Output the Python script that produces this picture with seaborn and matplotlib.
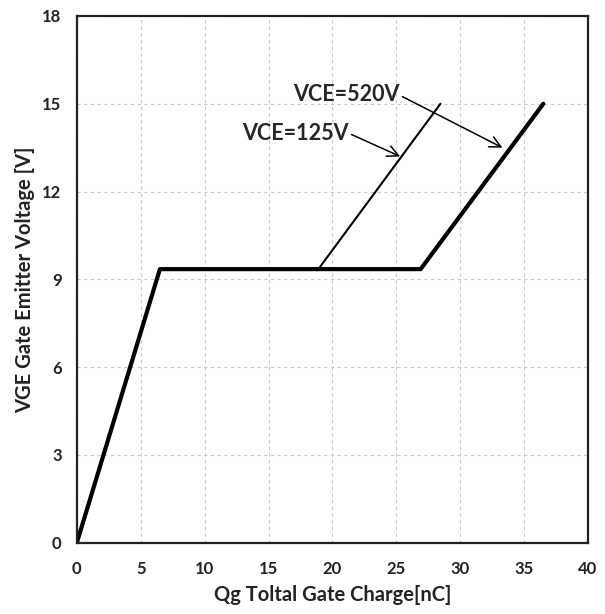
import matplotlib
matplotlib.use("Agg")
import matplotlib.pyplot as plt
import seaborn as sns
import pandas as pd

# Data
q_520 = [0, 6.5, 26.9, 36.5]
v_520 = [0, 9.35, 9.35, 15.0]
q_125 = [18.9, 28.45]
v_125 = [9.35, 15.0]
x_ticks = [0, 5, 10, 15, 20, 25, 30, 35, 40]
y_ticks = [0, 3, 6, 9, 12, 15, 18]
label_520 = "VCE=520V"
label_125 = "VCE=125V"

sns.set_style("white")
plt.rcParams['font.family'] = ['Lato', 'DejaVu Sans']

fig = plt.figure(figsize=(6.05, 6.14), dpi=100)
ax = fig.add_axes([0.127, 0.116, 0.845, 0.858])

df520 = pd.DataFrame({"q": q_520, "v": v_520})
df125 = pd.DataFrame({"q": q_125, "v": v_125})
sns.lineplot(data=df520, x="q", y="v", sort=False, ax=ax, color="black", linewidth=3.0)
sns.lineplot(data=df125, x="q", y="v", sort=False, ax=ax, color="black", linewidth=1.5)

ax.set_xlim(0, 40)
ax.set_ylim(0, 18)
ax.set_xticks(x_ticks)
ax.set_yticks(y_ticks)
ax.grid(True, color="#c8c8c8", linestyle=(0, (3, 3)), linewidth=0.8)
for lbl in ax.get_xticklabels() + ax.get_yticklabels():
    lbl.set_fontweight("bold")
    lbl.set_fontsize(12)
    lbl.set_color("#222222")
ax.tick_params(axis="x", length=0, pad=13)
ax.tick_params(axis="y", length=0, pad=11)
for s in ax.spines.values():
    s.set_color("#222222")
    s.set_linewidth(1.6)

ax.set_xlabel("Qg Toltal Gate Charge[nC]", fontsize=14.5, fontweight="bold", color="#222222", labelpad=6)
ax.set_ylabel("VGE Gate Emitter Voltage [V]", fontsize=14.5, fontweight="bold", color="#222222", labelpad=5)

arrow = dict(arrowstyle="->", color="black", lw=1.1, mutation_scale=20, shrinkA=0, shrinkB=0)
ax.annotate(label_520, xy=(33.3, 13.5), xytext=(16.9, 15.3), fontsize=15.5, fontweight="bold",
            ha="left", va="center", arrowprops=dict(arrow, relpos=(1.0, 0.5)))
ax.annotate(label_125, xy=(25.3, 13.2), xytext=(12.9, 14.0), fontsize=15.5, fontweight="bold",
            ha="left", va="center", arrowprops=dict(arrow, relpos=(1.0, 0.5)))

fig.savefig("out.png", dpi=100)
